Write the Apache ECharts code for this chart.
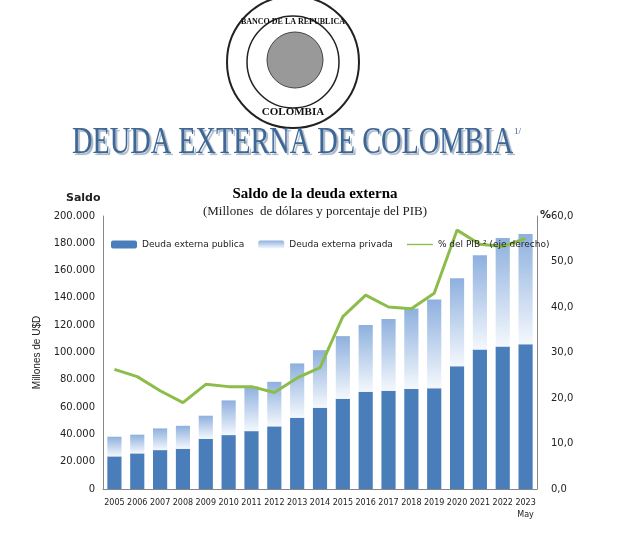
<!DOCTYPE html>
<html><head><meta charset="utf-8">
<script src="https://cdn.jsdelivr.net/npm/echarts@6/dist/echarts.min.js"></script>
<style>html,body{margin:0;padding:0;background:#fff}#c{width:621px;height:539px}</style>
</head><body><div id="c"></div>
<script>
const years = ['2005','2006','2007','2008','2009','2010','2011','2012','2013','2014','2015','2016','2017','2018','2019','2020','2021','2022','2023\nMay'];
const publica = [23.9,26.1,28.5,29.5,36.8,39.5,42.4,45.9,52.2,59.5,66.1,71.2,72.0,73.2,73.9,90.0,102.2,104.4,106.1];
const total = [38.3,39.8,44.4,46.3,53.7,64.9,75.1,78.5,92.0,101.7,112.0,120.2,124.6,132.2,138.8,154.4,171.2,183.9,186.8];
const pib = [26.3,24.7,21.6,19.0,23.0,22.5,22.5,21.2,24.4,26.7,37.9,42.6,40.0,39.6,43.0,56.9,53.8,53.3,55.1];
const yLeftTicks = [0,20000,40000,60000,80000,100000,120000,140000,160000,180000,200000];

const pubVals = publica.map(v => Math.round(v*1000));
const privVals = total.map((t,i) => Math.round((t - publica[i])*1000));
const chart = echarts.init(document.getElementById('c'));
const fmtL = v => v === 0 ? '0' : String(v).replace(/\B(?=(\d{3})+(?!\d))/g, '.');
const ax = {lineStyle:{color:'#888'}};
chart.setOption({
  animation:false,
  grid:{left:103,right:84,top:216,bottom:50},
  title:[
    {text:'Saldo de la deuda externa',left:310,top:182,textAlign:'center',textStyle:{fontFamily:'Liberation Serif',fontWeight:'bold',fontSize:15,color:'#000'}},
    {text:'(Millones  de dólares y porcentaje del PIB)',left:310,top:200,textAlign:'center',textStyle:{fontFamily:'Liberation Serif',fontWeight:'normal',fontSize:13,color:'#222'}}
  ],
  legend:{top:235,left:106,itemGap:14,itemWidth:26,itemHeight:8,textStyle:{fontSize:9,color:'#222',fontFamily:'DejaVu Sans'},
    data:['Deuda externa publica','Deuda externa privada',{name:'% del PIB ² (eje derecho)',icon:'path://M0,3.2h30v1.6h-30z'}]},
  xAxis:{type:'category',data:years,axisTick:{show:false},axisLine:ax,
    axisLabel:{fontSize:8,color:'#222',interval:0,fontFamily:'DejaVu Sans',lineHeight:12}},
  yAxis:[
    {type:'value',min:0,max:200000,interval:20000,splitLine:{show:false},axisLine:{show:true,lineStyle:{color:'#888'}},
     axisLabel:{formatter:fmtL,fontSize:10,color:'#222',fontFamily:'DejaVu Sans'},
     name:'Millones de U$D',nameLocation:'middle',nameGap:44,nameTextStyle:{fontSize:10,color:'#222'}},
    {type:'value',min:0,max:60,interval:10,splitLine:{show:false},axisLine:{show:true,lineStyle:{color:'#888'}},
     axisLabel:{formatter:v=>v.toFixed(1).replace('.',','),fontSize:10,color:'#222',fontFamily:'DejaVu Sans',margin:14}}
  ],
  series:[
    {name:'Deuda externa publica',type:'bar',stack:'t',data:pubVals,barWidth:'62%',itemStyle:{color:'#4a7ebb'}},
    {name:'Deuda externa privada',type:'bar',stack:'t',data:privVals,
     itemStyle:{color:new echarts.graphic.LinearGradient(0,0,0,1,[{offset:0,color:'#8eb0de'},{offset:1,color:'#f4f8fd'}])}},
    {name:'% del PIB ² (eje derecho)',type:'line',yAxisIndex:1,data:pib,symbol:'none',lineStyle:{color:'#8cbd4a',width:3},itemStyle:{color:'#8cbd4a'}}
  ],
  graphic:[
    {type:'text',left:66,top:193,style:{text:'Saldo',font:'bold 11px DejaVu Sans',fill:'#222'}},
    {type:'text',left:540,top:210,style:{text:'%',font:'bold 11px DejaVu Sans',fill:'#222'}},
    {type:'circle',shape:{cx:293,cy:62,r:66},style:{fill:'#fff',stroke:'#222',lineWidth:2}},
    {type:'circle',shape:{cx:293,cy:62,r:46},style:{fill:'none',stroke:'#222',lineWidth:1.5}},
    {type:'circle',shape:{cx:295,cy:60,r:28},style:{fill:'#999',stroke:'#444',lineWidth:1}},
    {type:'text',x:293,y:22,style:{text:'BANCO DE LA REPUBLICA',font:'bold 8px Liberation Serif',fill:'#111',align:'center',verticalAlign:'middle'}},
    {type:'text',x:293,y:112,style:{text:'COLOMBIA',font:'bold 11px Liberation Serif',fill:'#111',align:'center',verticalAlign:'middle'}},
    {type:'text',x:72,y:124,scaleX:0.745,style:{text:'DEUDA EXTERNA DE COLOMBIA',font:'38px Liberation Serif',fill:'#3f6796',textShadowColor:'#a5b3c4',textShadowOffsetX:2,textShadowOffsetY:2,textShadowBlur:1,verticalAlign:'top'}},
    {type:'text',x:514,y:127,style:{text:'1/',font:'9px Liberation Serif',fill:'#3f6796'}}
  ]
});
</script></body></html>
